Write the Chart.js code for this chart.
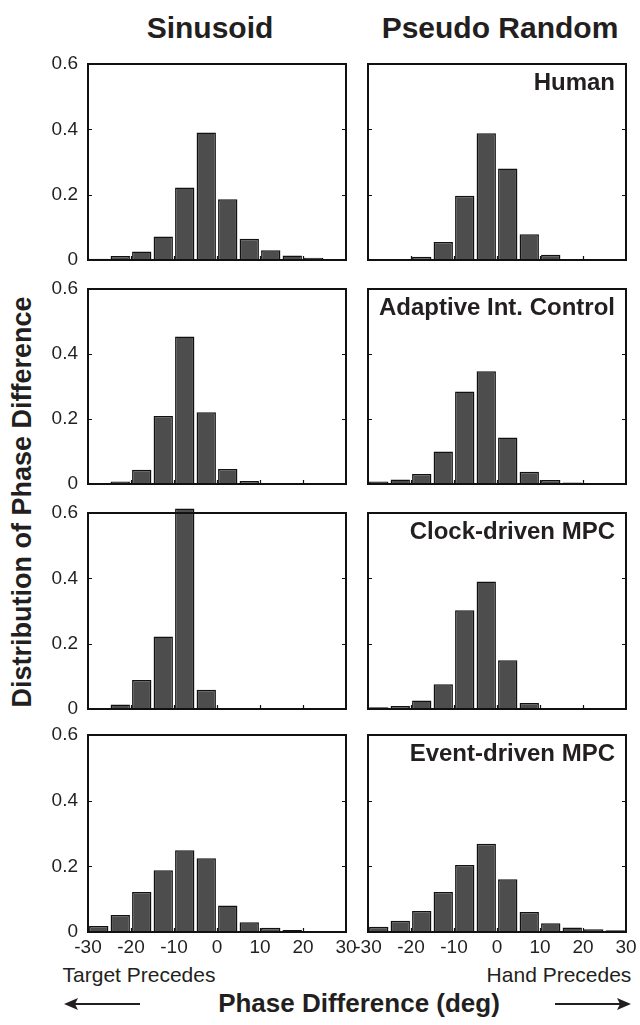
<!DOCTYPE html>
<html>
<head>
<meta charset="utf-8">
<script src="https://cdn.jsdelivr.net/npm/chart.js@4.4.1/dist/chart.umd.min.js"></script>
<style>
  html, body { margin: 0; padding: 0; background: #fff; }
  body { width: 640px; height: 1025px; position: relative; overflow: hidden;
         font-family: "Liberation Sans", Arial, sans-serif; color: #231f20; }
  canvas { position: absolute; }
  .txt { position: absolute; white-space: nowrap; transform: translate(-50%, -50%); }
  .bold { font-weight: bold; }
</style>
</head>
<body>

<div class="txt bold" style="left:210px; top:28px; font-size:30px;">Sinusoid</div>
<div class="txt bold" style="left:500px; top:28px; font-size:30px;">Pseudo Random</div>
<div class="txt bold" style="left:22px; top:502px; font-size:27px; transform: translate(-50%, -50%) rotate(-90deg);">Distribution of Phase Difference</div>
<div class="txt" style="left:139px; top:975px; font-size:21px;">Target Precedes</div>
<div class="txt" style="left:559px; top:975px; font-size:21px;">Hand Precedes</div>
<div class="txt bold" style="left:359px; top:1003px; font-size:26px;">Phase Difference (deg)</div>
<svg style="position:absolute; left:0; top:0;" width="640" height="1025">
  <g stroke="#231f20" stroke-width="2" fill="#231f20">
    <line x1="74" y1="1004" x2="140" y2="1004"/>
    <polygon points="64,1004 78,998 75,1004 78,1010" stroke="none"/>
    <line x1="555" y1="1004" x2="621" y2="1004"/>
    <polygon points="631,1004 617,998 620,1004 617,1010" stroke="none"/>
  </g>
</svg>

<script>
// ---- data ----
const BIN_CENTERS = [-27.5, -22.5, -17.5, -12.5, -7.5, -2.5, 2.5, 7.5, 12.5, 17.5, 22.5, 27.5];
const X_TICKS = [-30, -20, -10, 0, 10, 20, 30];
const Y_TICKS = [0, 0.2, 0.4, 0.6];
const PANEL_LABELS = ['Human', 'Adaptive Int. Control', 'Clock-driven MPC', 'Event-driven MPC'];

const sinHuman = [0.004, 0.012, 0.026, 0.072, 0.222, 0.390, 0.186, 0.065, 0.030, 0.014, 0.007, 0.001];
const prHuman  = [0.000, 0.003, 0.010, 0.055, 0.197, 0.388, 0.280, 0.079, 0.016, 0.003, 0.001, 0.001];
const sinAIC   = [0.001, 0.008, 0.044, 0.209, 0.454, 0.221, 0.046, 0.009, 0.002, 0.001, 0.001, 0.000];
const prAIC    = [0.008, 0.014, 0.031, 0.100, 0.285, 0.347, 0.143, 0.038, 0.012, 0.005, 0.002, 0.001];
const sinClock = [0.000, 0.014, 0.089, 0.222, 0.614, 0.059, 0.003, 0.000, 0.000, 0.000, 0.000, 0.000];
const prClock  = [0.005, 0.009, 0.026, 0.076, 0.302, 0.390, 0.149, 0.018, 0.003, 0.002, 0.002, 0.001];
const sinEvent = [0.018, 0.052, 0.122, 0.188, 0.249, 0.225, 0.081, 0.030, 0.013, 0.006, 0.002, 0.000];
const prEvent  = [0.016, 0.034, 0.064, 0.122, 0.204, 0.269, 0.161, 0.061, 0.027, 0.014, 0.008, 0.005];

const ROWS = [
  { sin: sinHuman, pr: prHuman },
  { sin: sinAIC,   pr: prAIC },
  { sin: sinClock, pr: prClock },
  { sin: sinEvent, pr: prEvent }
];

// plot box positions on the page
const ROW_TOP = [64, 289, 513, 735];
const ROW_BOTTOM = [260, 484, 709, 932];
const INK = '#231f20';
const FONT = '"Liberation Sans", Arial, sans-serif';

// frame, inward tick marks and panel label
const framePlugin = {
  id: 'frame',
  afterDatasetsDraw(chart, args, opts) {
    const { ctx, chartArea: a, scales: { x, y } } = chart;
    ctx.save();
    ctx.strokeStyle = '#111';
    ctx.lineWidth = 1.2;
    ctx.beginPath();
    [0.2, 0.4].forEach(v => {
      const py = Math.round(y.getPixelForValue(v)) + 0.5;
      ctx.moveTo(a.left, py); ctx.lineTo(a.left + 4, py);
      ctx.moveTo(a.right - 4, py); ctx.lineTo(a.right, py);
    });
    X_TICKS.slice(1, -1).forEach(v => {
      const px = Math.round(x.getPixelForValue(v)) + 0.5;
      ctx.moveTo(px, a.bottom); ctx.lineTo(px, a.bottom - 4);
    });
    ctx.stroke();
    ctx.lineWidth = 2;
    ctx.strokeRect(a.left, a.top, a.right - a.left, a.bottom - a.top);
    if (opts.label) {
      ctx.fillStyle = INK;
      ctx.font = 'bold 24px ' + FONT;
      ctx.textAlign = 'right';
      ctx.textBaseline = 'middle';
      ctx.fillText(opts.label, a.right - 11, a.top + 19);
    }
    ctx.restore();
  }
};

function makePanel(values, row, col) {
  const isLeft = col === 0;
  const isBottom = row === ROWS.length - 1;
  const padTop = 24, padBottom = isBottom ? 0 : 24;
  const xAxisH = isBottom ? 30 : 0;
  const padLeft = isLeft ? 0 : 20;
  const padRight = isLeft ? 18 : 16;
  const left = isLeft ? 0 : 348;
  const width = isLeft ? 346 + padRight : 626 + padRight - left;
  const top = ROW_TOP[row] - padTop;
  const height = padTop + (ROW_BOTTOM[row] - ROW_TOP[row]) + xAxisH + padBottom;

  const canvas = document.createElement('canvas');
  canvas.width = width; canvas.height = height;
  canvas.style.left = left + 'px'; canvas.style.top = top + 'px';
  document.body.appendChild(canvas);

  new Chart(canvas.getContext('2d'), {
    type: 'bar',
    data: {
      datasets: [{
        data: BIN_CENTERS.map((c, i) => ({ x: c, y: values[i] })),
        backgroundColor: '#4d4d4d',
        borderColor: '#111',
        borderWidth: 1.5,
        categoryPercentage: 1,
        barPercentage: 0.9,
        clip: false
      }]
    },
    options: {
      responsive: false,
      animation: false,
      events: [],
      layout: { padding: { left: padLeft, right: padRight, top: padTop, bottom: padBottom } },
      plugins: { legend: { display: false }, tooltip: { enabled: false }, frame: { label: isLeft ? '' : PANEL_LABELS[row] } },
      scales: {
        x: {
          type: 'linear', min: -30, max: 30, offset: false,
          display: isBottom,
          grid: { display: false, drawTicks: false },
          border: { display: false },
          afterBuildTicks: s => { s.ticks = X_TICKS.map(v => ({ value: v })); },
          afterFit: s => { if (isBottom) s.height = xAxisH; },
          ticks: { color: INK, font: { family: FONT, size: 19 }, padding: 4, maxRotation: 0, autoSkip: false }
        },
        y: {
          min: 0, max: 0.6,
          display: isLeft,
          grid: { display: false, drawTicks: false },
          border: { display: false },
          afterBuildTicks: s => { s.ticks = Y_TICKS.map(v => ({ value: v })); },
          afterFit: s => { if (isLeft) s.width = 88; },
          ticks: { color: INK, font: { family: FONT, size: 19 }, padding: 10, callback: v => v === 0 ? '0' : v.toFixed(1) }
        }
      }
    },
    plugins: [framePlugin]
  });
}

ROWS.forEach((r, i) => {
  makePanel(r.sin, i, 0);
  makePanel(r.pr, i, 1);
});
</script>
</body>
</html>
